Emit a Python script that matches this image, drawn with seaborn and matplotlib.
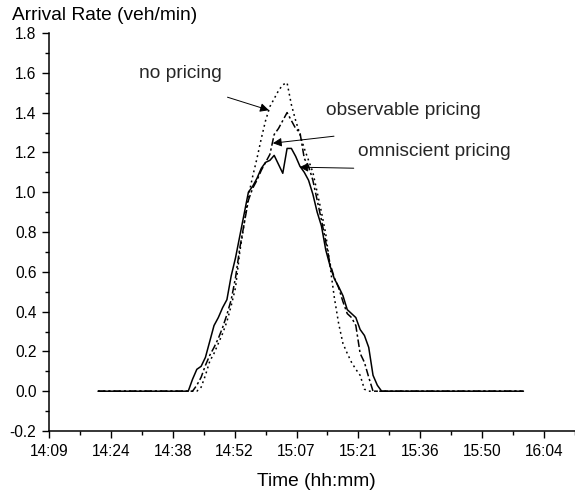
import matplotlib
matplotlib.use("Agg")
import matplotlib.pyplot as plt
import numpy as np
import pandas as pd
import seaborn as sns

# ---------------- data ----------------
times = ["14:21",
         "14:42", "14:43", "14:44", "14:45", "14:46", "14:47", "14:48", "14:49",
         "14:50", "14:51", "14:52", "14:53", "14:54", "14:55", "14:56", "14:57",
         "14:58", "14:59", "15:00", "15:01", "15:02", "15:03", "15:04", "15:05",
         "15:06", "15:07", "15:08", "15:09", "15:10", "15:11", "15:12", "15:13",
         "15:14", "15:15", "15:16", "15:17", "15:18", "15:19", "15:20", "15:21",
         "15:22", "15:23", "15:24", "15:25", "15:26", "15:27", "15:28",
         "16:00"]

no_pricing = [0.0,
              0.0, 0.0, 0.0, 0.02, 0.08, 0.15, 0.19, 0.24,
              0.29, 0.35, 0.43, 0.52, 0.70, 0.84, 0.98, 1.08,
              1.17, 1.27, 1.36, 1.43, 1.47, 1.51, 1.54, 1.55,
              1.44, 1.36, 1.29, 1.22, 1.16, 1.10, 1.00, 0.90,
              0.79, 0.63, 0.47, 0.34, 0.24, 0.19, 0.145, 0.11,
              0.08, 0.01, 0.0, 0.0, 0.0, 0.0, 0.0,
              0.0]

observable_pricing = [0.0,
                      0.0, 0.0, 0.03, 0.07, 0.13, 0.18, 0.22, 0.265,
                      0.32, 0.385, 0.46, 0.57, 0.72, 0.84, 0.96, 1.02,
                      1.06, 1.11, 1.15, 1.19, 1.29, 1.32, 1.36, 1.40,
                      1.36, 1.32, 1.30, 1.17, 1.13, 1.06, 0.96, 0.86,
                      0.75, 0.64, 0.57, 0.52, 0.45, 0.39, 0.37, 0.33,
                      0.19, 0.145, 0.07, 0.0, 0.0, 0.0, 0.0,
                      0.0]

omniscient_pricing = [0.0,
                      0.0, 0.06, 0.11, 0.125, 0.17, 0.25, 0.33, 0.37,
                      0.42, 0.46, 0.58, 0.67, 0.78, 0.89, 1.00, 1.03,
                      1.07, 1.12, 1.15, 1.16, 1.185, 1.14, 1.095, 1.22,
                      1.22, 1.18, 1.13, 1.10, 1.06, 0.99, 0.90, 0.83,
                      0.71, 0.63, 0.565, 0.525, 0.48, 0.41, 0.39, 0.37,
                      0.31, 0.28, 0.22, 0.08, 0.03, 0.0, 0.0,
                      0.0]

series_names = ["no pricing", "observable pricing", "omniscient pricing"]

x_tick_days = [0.59, 0.60, 0.61, 0.62, 0.63, 0.64, 0.65, 0.66, 0.67]
x_tick_labels = ["14:09", "14:24", "14:38", "14:52", "15:07",
                 "15:21", "15:36", "15:50", "16:04"]
y_ticks = [-0.2, 0.0, 0.2, 0.4, 0.6, 0.8, 1.0, 1.2, 1.4, 1.6, 1.8]
y_tick_labels = ["-0.2", "0.0", "0.2", "0.4", "0.6", "0.8",
                 "1.0", "1.2", "1.4", "1.6", "1.8"]

# ---------------- build table ----------------
def to_min(s):
    h, m = s.split(":")
    return int(h) * 60 + int(m)

t_min = [to_min(s) for s in times]
frames = []
for name, vals in zip(series_names, [no_pricing, observable_pricing, omniscient_pricing]):
    frames.append(pd.DataFrame({"t": t_min, "rate": vals, "series": name}))
df = pd.concat(frames, ignore_index=True)

# ---------------- style ----------------
sns.set_style("ticks")
plt.rcParams["font.family"] = ["Liberation Sans", "DejaVu Sans"]

fig = plt.figure(figsize=(5.75, 4.93), dpi=100)
ax = fig.add_axes([49 / 575, 1 - 431 / 493, 1 - 49 / 575, (431 - 33) / 493])

sns.lineplot(data=df, x="t", y="rate", hue="series", style="series",
             hue_order=series_names, style_order=series_names,
             palette={n: "black" for n in series_names},
             dashes={"no pricing": (1.2, 2.2),
                     "observable pricing": (5, 1.8, 1.5, 1.8),
                     "omniscient pricing": ""},
             linewidth=1.1, legend=False, ax=ax, sort=False, estimator=None)

x_ticks = [d * 1440 for d in x_tick_days]
ax.set_xlim(x_ticks[0], x_ticks[0] + 526 / 62.75 * 14.4)
ax.set_ylim(-0.2, 1.8)
ax.set_xticks(x_ticks)
ax.set_xticklabels(x_tick_labels)
ax.set_yticks(y_ticks)
ax.set_yticklabels(y_tick_labels)
ax.set_xticks([x + 7.2 for x in x_ticks], minor=True)
ax.set_yticks([y + 0.1 for y in y_ticks[:-1]], minor=True)
ax.tick_params(axis="both", which="major", direction="out", length=5,
               width=1.0, labelsize=11.2, color="black", labelcolor="black")
ax.tick_params(axis="both", which="minor", direction="out", length=3,
               width=1.0, color="black")
ax.tick_params(axis="x", which="major", pad=4)
ax.tick_params(axis="y", which="major", pad=4)
for side in ["top", "right"]:
    ax.spines[side].set_visible(False)
for side in ["left", "bottom"]:
    ax.spines[side].set_color("black")
    ax.spines[side].set_linewidth(1.1)
ax.set_xlabel("")
ax.set_ylabel("")

fig.text(12 / 575, 1 - 15 / 493, "Arrival Rate (veh/min)", ha="left", va="center",
         fontsize=13.8, color="black")
fig.text(316 / 575, 1 - 482 / 493, "Time (hh:mm)", ha="center", va="center",
         fontsize=13.8, color="black")

# annotations
def px2data(px, py):
    return (x_ticks[0] + (px - 49) / 62.75 * 14.4, (391 - py) / 199)

ax.text(*px2data(140, 73), "no pricing", ha="left", va="center", fontsize=13.8)
ax.text(*px2data(330, 110), "observable pricing", ha="left", va="center", fontsize=13.8)
ax.text(*px2data(362, 151), "omniscient pricing", ha="left", va="center", fontsize=13.8)

arrow_kw = dict(arrowstyle="-|>", color="black", lw=0.7, mutation_scale=13,
                shrinkA=0, shrinkB=0)
ax.annotate("", xy=px2data(272, 110), xytext=px2data(230, 97), arrowprops=arrow_kw)
ax.annotate("", xy=px2data(276, 143), xytext=px2data(338, 136), arrowprops=arrow_kw)
ax.annotate("", xy=px2data(303, 167), xytext=px2data(358, 168), arrowprops=arrow_kw)

fig.savefig("out.png", dpi=100)
